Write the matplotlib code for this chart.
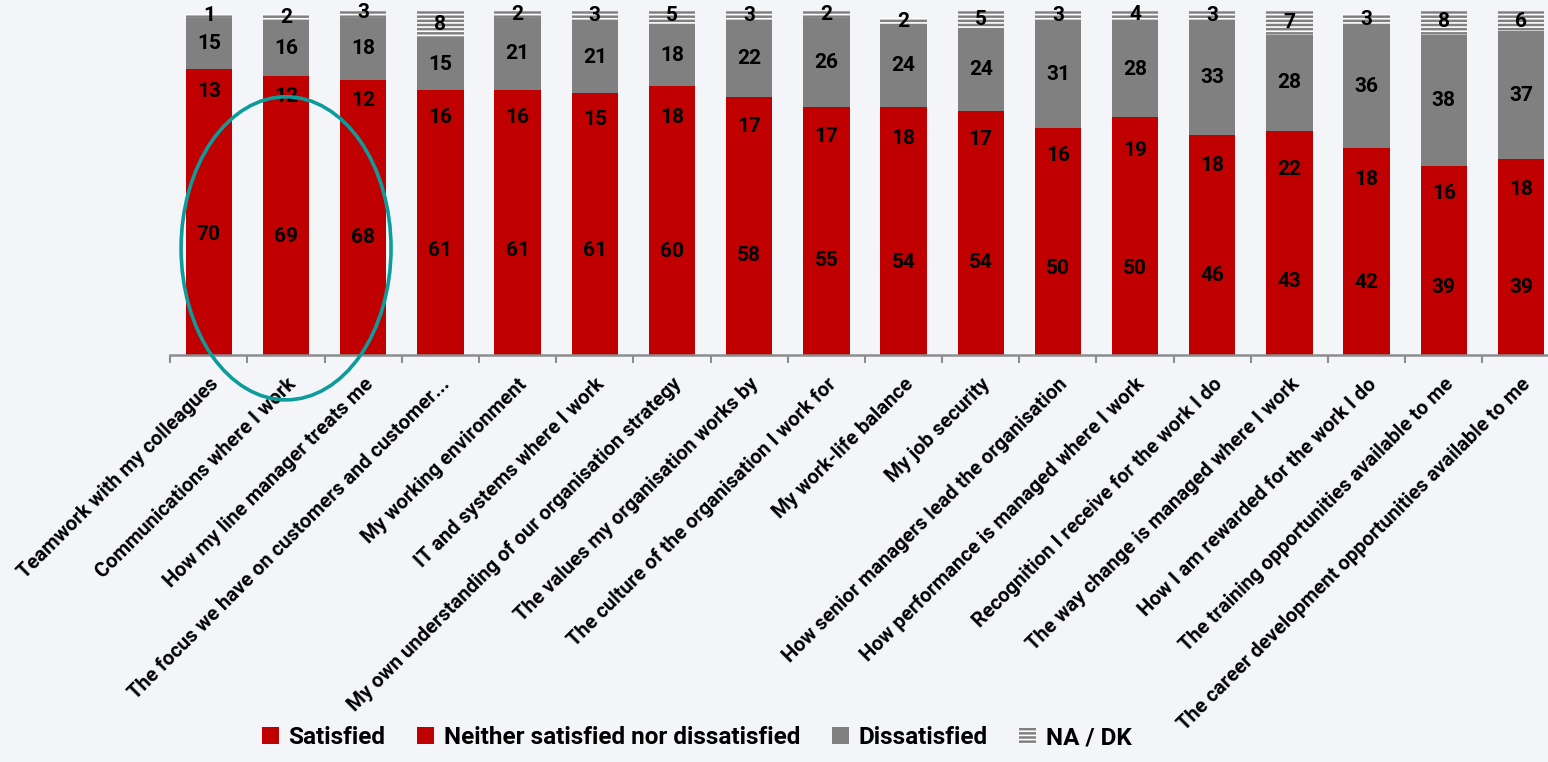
import numpy as np
import matplotlib.pyplot as plt
from matplotlib.patches import Ellipse, Patch

plt.rcParams['font.family'] = ['Roboto', 'DejaVu Sans']
plt.rcParams['hatch.linewidth'] = 1.2

# survey items
categories = [
    "Teamwork with my colleagues",
    "Communications where I work",
    "How my line manager treats me",
    "The focus we have on customers and customer...",
    "My working environment",
    "IT and systems where I work",
    "My own understanding of our organisation strategy",
    "The values my organisation works by",
    "The culture of the organisation I work for",
    "My work-life balance",
    "My job security",
    "How senior managers lead the organisation",
    "How performance is managed where I work",
    "Recognition I receive for the work I do",
    "The way change is managed where I work",
    "How I am rewarded for the work I do",
    "The training opportunities available to me",
    "The career development opportunities available to me",
]
satisfied = [70, 69, 68, 61, 61, 61, 60, 58, 55, 54, 54, 50, 50, 46, 43, 42, 39, 39]
neither = [13, 12, 12, 16, 16, 15, 18, 17, 17, 18, 17, 16, 19, 18, 22, 18, 16, 18]
dissatisfied = [15, 16, 18, 15, 21, 21, 18, 22, 26, 24, 24, 31, 28, 33, 28, 36, 38, 37]
na_dk = [1, 2, 3, 8, 2, 3, 5, 3, 2, 2, 5, 3, 4, 3, 7, 3, 8, 6]

series = [
    ("Satisfied", satisfied, '#C00000', None),
    ("Neither satisfied nor dissatisfied", neither, '#C00000', None),
    ("Dissatisfied", dissatisfied, '#808080', None),
    ("NA / DK", na_dk, '#808080', '----'),
]

bg = '#F3F5F9'
fig = plt.figure(figsize=(15.48, 7.62), dpi=100, facecolor=bg)
ax = fig.add_axes([0.11, 0.534, 0.895, 0.452])
ax.set_facecolor('none')

x = np.arange(len(categories))
bottom = np.zeros(len(categories))
for name, vals, color, hatch in series:
    vals = np.array(vals)
    if hatch:
        ax.bar(x, vals, 0.6, bottom=bottom, color=color, edgecolor='white',
               hatch=hatch, linewidth=0)
    else:
        ax.bar(x, vals, 0.6, bottom=bottom, color=color, linewidth=0)
    for xi, b, v in zip(x, bottom, vals):
        ax.text(xi, b + v / 2, str(v), ha='center', va='center',
                fontsize=15, fontweight='bold', color='black')
    bottom += vals

ax.set_xlim(-0.5, 17.45)
ax.set_ylim(0, 100)
ax.set_yticks([])
for s in ['left', 'right', 'top']:
    ax.spines[s].set_visible(False)
ax.spines['bottom'].set_color('#8C8C8C')
ax.spines['bottom'].set_linewidth(1.8)

ax.set_xticks(x)
ax.set_xticklabels(categories, rotation=45, ha='right', rotation_mode='anchor',
                   fontsize=14.5, fontweight='bold')
ax.tick_params(axis='x', which='major', length=0, pad=14)
ax.set_xticks(np.arange(-0.5, 17.5, 1), minor=True)
ax.tick_params(axis='x', which='minor', length=6, width=1.5, color='#8C8C8C')

# highlight ring around the top three items
ax.add_patch(Ellipse((1.0, 31), 2.72, 88, fill=False, edgecolor='#0E9C9A',
                     linewidth=2.6, clip_on=False, zorder=5))

handles = [Patch(facecolor=c, edgecolor='white' if h else c, hatch=h,
                 linewidth=0, label=n) for n, _, c, h in series]
fig.legend(handles=handles, loc='lower center', bbox_to_anchor=(0.45, -0.012),
           ncol=4, frameon=False, prop={'weight': 'bold', 'size': 17.5},
           handlelength=0.7, handleheight=0.7, handletextpad=0.4,
           columnspacing=1.3)

fig.savefig('out.png', dpi=100, facecolor=bg)
